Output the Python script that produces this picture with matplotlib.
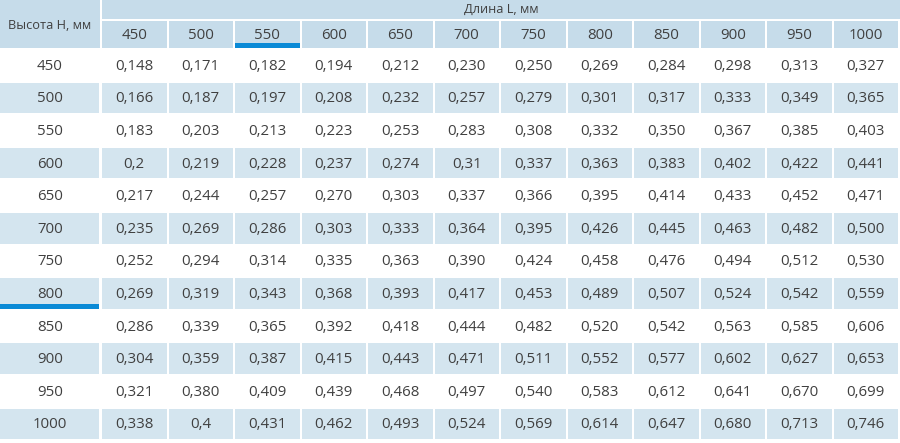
import matplotlib.pyplot as plt
from matplotlib.patches import Rectangle

# table data
lengths = [450, 500, 550, 600, 650, 700, 750, 800, 850, 900, 950, 1000]
heights = [450, 500, 550, 600, 650, 700, 750, 800, 850, 900, 950, 1000]
values = [
    ["0,148", "0,171", "0,182", "0,194", "0,212", "0,230", "0,250", "0,269", "0,284", "0,298", "0,313", "0,327"],
    ["0,166", "0,187", "0,197", "0,208", "0,232", "0,257", "0,279", "0,301", "0,317", "0,333", "0,349", "0,365"],
    ["0,183", "0,203", "0,213", "0,223", "0,253", "0,283", "0,308", "0,332", "0,350", "0,367", "0,385", "0,403"],
    ["0,2", "0,219", "0,228", "0,237", "0,274", "0,31", "0,337", "0,363", "0,383", "0,402", "0,422", "0,441"],
    ["0,217", "0,244", "0,257", "0,270", "0,303", "0,337", "0,366", "0,395", "0,414", "0,433", "0,452", "0,471"],
    ["0,235", "0,269", "0,286", "0,303", "0,333", "0,364", "0,395", "0,426", "0,445", "0,463", "0,482", "0,500"],
    ["0,252", "0,294", "0,314", "0,335", "0,363", "0,390", "0,424", "0,458", "0,476", "0,494", "0,512", "0,530"],
    ["0,269", "0,319", "0,343", "0,368", "0,393", "0,417", "0,453", "0,489", "0,507", "0,524", "0,542", "0,559"],
    ["0,286", "0,339", "0,365", "0,392", "0,418", "0,444", "0,482", "0,520", "0,542", "0,563", "0,585", "0,606"],
    ["0,304", "0,359", "0,387", "0,415", "0,443", "0,471", "0,511", "0,552", "0,577", "0,602", "0,627", "0,653"],
    ["0,321", "0,380", "0,409", "0,439", "0,468", "0,497", "0,540", "0,583", "0,612", "0,641", "0,670", "0,699"],
    ["0,338", "0,4", "0,431", "0,462", "0,493", "0,524", "0,569", "0,614", "0,647", "0,680", "0,713", "0,746"],
]
row_title = "Высота Н, мм"
col_title = "Длина L, мм"
marked_col = 550
marked_row = 800

header_color = "#c6dcea"
stripe_color = "#d4e5ef"
mark_color = "#0a8ad6"
text_color = "#404040"

plt.rcParams['font.family'] = ['Open Sans', 'DejaVu Sans']

fig = plt.figure(figsize=(9, 4.43), dpi=100)
ax = fig.add_axes([0, 0, 1, 1])
ax.set_xlim(0, 900)
ax.set_ylim(443, 0)
ax.axis('off')

gap = 2
first_w = 100
col_x0 = first_w + gap
col_w = (900 - col_x0) / len(lengths)
head1_h = 19
head2_y = 21
head2_h = 27
body_y0 = 50
row_h = 32.6
fs = 10.8

# header
ax.add_patch(Rectangle((0, 0), first_w, head2_y + head2_h, color=header_color, lw=0))
ax.text(first_w / 2, 25, row_title, ha='center', va='center', fontsize=9.2, color=text_color)
ax.add_patch(Rectangle((col_x0, 0), 900 - col_x0, head1_h, color=header_color, lw=0))
ax.text((col_x0 + 900) / 2, 9.5, col_title, ha='center', va='center', fontsize=9.2, color=text_color)
for j, L in enumerate(lengths):
    x = col_x0 + j * col_w
    ax.add_patch(Rectangle((x, head2_y), col_w - gap, head2_h, color=header_color, lw=0))
    ax.text(x + (col_w - gap) / 2, head2_y + head2_h / 2 + 1, str(L), ha='center', va='center',
            fontsize=fs, color=text_color)
    if L == marked_col:
        ax.add_patch(Rectangle((x, head2_y + head2_h - 5), col_w - gap, 5, color=mark_color, lw=0))

# body
for i, H in enumerate(heights):
    y = body_y0 + i * row_h
    h = row_h - gap
    if i % 2 == 1:
        ax.add_patch(Rectangle((0, y), first_w - 1, h, color=stripe_color, lw=0))
        for j in range(len(lengths)):
            x = col_x0 + j * col_w
            ax.add_patch(Rectangle((x, y), col_w - gap, h, color=stripe_color, lw=0))
    ax.text(first_w / 2, y + h / 2 + 1, str(H), ha='center', va='center', fontsize=fs, color=text_color)
    if H == marked_row:
        ax.add_patch(Rectangle((0, y + h - 5), first_w - 1, 5, color=mark_color, lw=0))
    for j, v in enumerate(values[i]):
        x = col_x0 + j * col_w
        ax.text(x + (col_w - gap) / 2, y + h / 2 + 1, v, ha='center', va='center',
                fontsize=fs, color=text_color)

fig.savefig('out.png', dpi=100)
